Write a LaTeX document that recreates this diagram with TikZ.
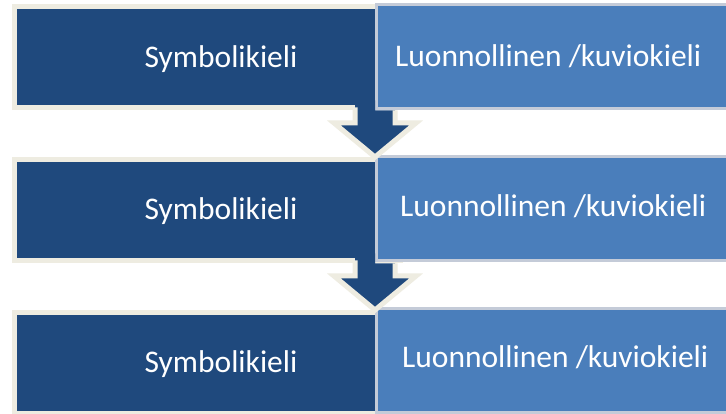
\documentclass[tikz,border=0pt]{standalone}
\usepackage{fontspec}
\setmainfont{Carlito}
\usetikzlibrary{positioning,calc,shadows}
\definecolor{symblue}{RGB}{31,73,125}
\definecolor{natblue}{RGB}{74,126,187}
\definecolor{symedge}{RGB}{238,236,225}
\definecolor{natedge}{RGB}{196,203,216}

\begin{document}
\begin{tikzpicture}[
        x=1pt, y=-1pt,
        node distance=52pt,
        symbox/.style={draw=symedge, fill=symblue, line width=5pt, minimum width=386pt, minimum height=101pt, inner sep=0pt, outer sep=0pt, drop shadow={shadow xshift=0.5pt, shadow yshift=-2pt, opacity=0.2}},
        natbox/.style={draw=natedge, fill=natblue, line width=3.5pt, minimum width=363.5pt, minimum height=104pt, inner sep=0pt, outer sep=0pt, drop shadow={shadow xshift=0.5pt, shadow yshift=-2pt, opacity=0.15}},
        lbl/.style={text=white, font=\fontsize{31.5}{38}\selectfont, inner sep=0pt},
        stem/.style={draw=symedge, line width=5pt, line join=miter}
    ]
    \fill[white] (0,0) rectangle (726,414);
    \useasboundingbox (0,0) rectangle (726,414);
    \clip (0,0) rectangle (726,414);

    % left column
    \node[symbox] (sym1) at (207,57) {};
    \node[symbox, below=of sym1] (sym2) {};
    \node[symbox, below=of sym2] (sym3) {};

    % right column
    \node[natbox] (nat1) at (558.25,56.5) {};
    \node[natbox, below=48pt of nat1] (nat2) {};
    \node[natbox, below=48pt of nat2] (nat3) {};

    % block arrows from one row to the next
    \foreach \i in {1,2} {
        \coordinate (stem\i) at ($(sym\i.south west)+(361,0)$);
        \fill[symblue] ($(stem\i)+(-20,-7)$) -- ($(stem\i)+(-20,15.5)$) -- ($(stem\i)+(-41,15.5)$)
            -- ($(stem\i)+(0,49.5)$) -- ($(stem\i)+(41,15.5)$) -- ($(stem\i)+(20,15.5)$)
            -- ($(stem\i)+(20,3)$) -- ($(stem\i)+(0,3)$) -- ($(stem\i)+(0,-7)$) -- cycle;
        \draw[stem] ($(stem\i)+(-20,0)$) -- ($(stem\i)+(-20,15.5)$) -- ($(stem\i)+(-41,15.5)$)
            -- ($(stem\i)+(0,49.5)$) -- ($(stem\i)+(41,15.5)$) -- ($(stem\i)+(20,15.5)$)
            -- ($(stem\i)+(20,3)$);
    }

    % labels
    \foreach \i/\y in {1/68, 2/220, 3/372}
        \node[lbl, anchor=base] (symtext\i) at (221,\y) {Symbolikieli};
    \foreach \i/\x/\y in {1/395/67, 2/400/217, 3/402/367}
        \node[lbl, anchor=base west] (nattext\i) at (\x,\y) {Luonnollinen /kuviokieli};
\end{tikzpicture}
\end{document}
